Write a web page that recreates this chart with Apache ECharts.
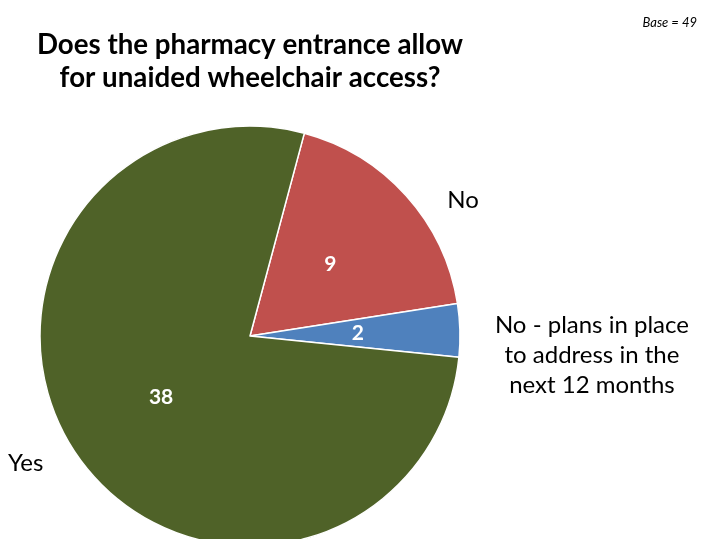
<!DOCTYPE html>
<html><head><meta charset="utf-8">
<script src="https://cdn.jsdelivr.net/npm/echarts@6/dist/echarts.min.js"></script>
<style>html,body{margin:0;padding:0;background:#fff}#c{width:715px;height:539px}</style>
</head><body><div id="c"></div>
<script>
const categories = ['No', 'No - plans in place\nto address in the\nnext 12 months', 'Yes'];
const values = [9, 2, 38];
const colors = ['#C0504D', '#4F81BD', '#4F6228'];
const titleText = 'Does the pharmacy entrance allow\nfor unaided wheelchair access?';
const baseText = 'Base = 49';

const chart = echarts.init(document.getElementById('c'));
const data = categories.map((n, i) => ({ name: n, value: values[i], itemStyle: { color: colors[i] } }));
const FONT = 'Lato, "Open Sans", sans-serif';
const labelShift = [[37, 18], [107, 25], [-30, -3]];
chart.setOption({
  animation: false,
  title: [
    { text: titleText, left: 245, top: 24, textAlign: 'center',
      textStyle: { fontFamily: FONT, fontSize: 27.7, fontWeight: 'bold', color: '#000', lineHeight: 33 } },
    { text: baseText, right: 13, top: 11,
      textStyle: { fontFamily: FONT, fontSize: 13, fontStyle: 'italic', fontWeight: 'normal', color: '#000' } }
  ],
  series: [
    {
      type: 'pie', center: [250, 336], radius: [0, 210], startAngle: 75, clockwise: true,
      data: data, silent: true,
      itemStyle: { borderColor: '#fff', borderWidth: 1.5 },
      label: { show: true, position: 'inside', formatter: '{c}', color: '#fff',
        fontFamily: FONT, fontSize: 21, fontWeight: 'bold' },
      labelLine: { show: false }
    },
    {
      type: 'pie', center: [250, 336], radius: [0, 210], startAngle: 75, clockwise: true,
      data: data, silent: true, z: 1,
      itemStyle: { color: 'transparent', borderWidth: 0 },
      label: { show: true, position: 'outside', formatter: '{b}', color: '#000',
        fontFamily: FONT, fontSize: 24, lineHeight: 30, align: 'center' },
      labelLine: { show: false, length: 20, length2: 0 },
      labelLayout: function (p) {
        return { dx: labelShift[p.dataIndex][0], dy: labelShift[p.dataIndex][1], align: 'center' };
      }
    }
  ]
});
</script></body></html>
